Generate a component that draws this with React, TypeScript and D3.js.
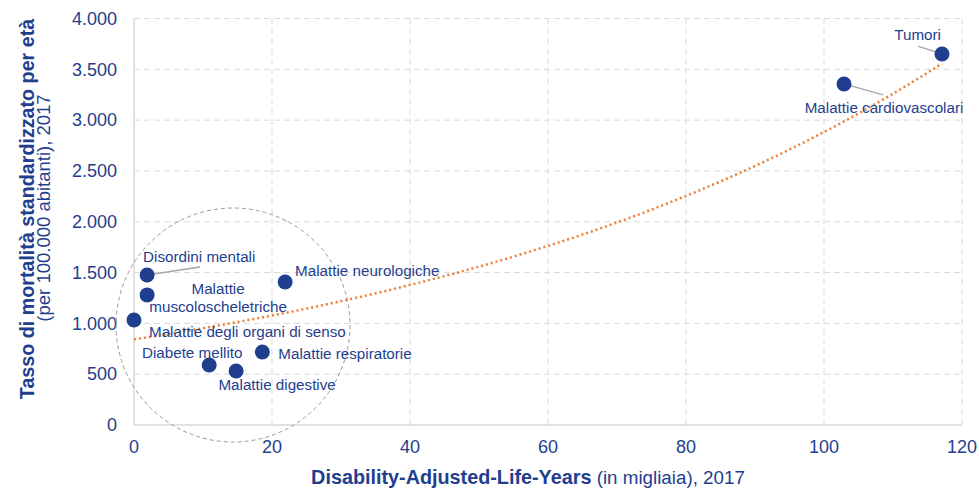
import React from "react";
import * as d3 from "d3";

const categories = [
  "Tumori",
  "Malattie cardiovascolari",
  "Disordini mentali",
  "Malattie muscoloscheletriche",
  "Malattie degli organi di senso",
  "Malattie neurologiche",
  "Diabete mellito",
  "Malattie digestive",
  "Malattie respiratorie",
];
const dalys = [117.1, 102.9, 1.9, 1.9, 0.0, 21.9, 10.9, 14.8, 18.6];
const mortality = [3650, 3356, 1476, 1280, 1033, 1407, 590, 531, 718];
const xTicks = [0, 20, 40, 60, 80, 100, 120];
const yTicks = [0, 500, 1000, 1500, 2000, 2500, 3000, 3500, 4000];

// label layout (pixel offsets from point)
const labelLayout: Record<string, { dx: number; dy: number; anchor: string; lines?: string[]; leader?: [number, number] }> = {
  "Tumori": { dx: -1, dy: -19, anchor: "end", leader: [-24, -8] },
  "Malattie cardiovascolari": { dx: 40, dy: 24, anchor: "middle", leader: [39, 11] },
  "Disordini mentali": { dx: -4, dy: -18, anchor: "start", leader: [53, -8] },
  "Malattie muscoloscheletriche": { dx: 71, dy: -6, anchor: "middle", lines: ["Malattie", "muscoloscheletriche"] },
  "Malattie degli organi di senso": { dx: 15, dy: 12, anchor: "start" },
  "Malattie neurologiche": { dx: 10, dy: -11, anchor: "start" },
  "Diabete mellito": { dx: -17, dy: -12, anchor: "middle" },
  "Malattie digestive": { dx: 41, dy: 13.5, anchor: "middle" },
  "Malattie respiratorie": { dx: 16, dy: 2, anchor: "start" },
};

const W = 979, H = 489;
const left = 134, right = 962, top = 18.5, bottom = 425;
const BLUE = "#1F3E8E";
const FONT = "'Liberation Sans', Arial, sans-serif";

export default function App() {
  const x = d3.scaleLinear().domain([0, 120]).range([left, right]);
  const y = d3.scaleLinear().domain([0, 4000]).range([bottom, top]);

  // exponential trendline fit (least squares on ln y)
  const n = dalys.length;
  const lnY = mortality.map((v) => Math.log(v));
  const mx = d3.mean(dalys)!;
  const ml = d3.mean(lnY)!;
  let sxy = 0, sxx = 0;
  for (let i = 0; i < n; i++) {
    sxy += (dalys[i] - mx) * (lnY[i] - ml);
    sxx += (dalys[i] - mx) ** 2;
  }
  const b = sxy / sxx;
  const a = Math.exp(ml - b * mx);
  const xMax = d3.max(dalys)!;
  const trendPts = d3.range(0, 101).map((i) => {
    const xv = (xMax * i) / 100;
    return [x(xv), y(a * Math.exp(b * xv))] as [number, number];
  });
  const trendPath = d3.line()(trendPts)!;

  // circle highlighting the cluster
  const cx = 233, cy = 325, r = 117;

  return (
    <div style={{ position: "absolute", left: 0, top: 0 }}>
      <svg width={W} height={H} style={{ display: "block", fontFamily: FONT }}>
        <rect width={W} height={H} fill="#fff" />
        {/* gridlines */}
        {yTicks.slice(1).map((t) => (
          <line key={"gy" + t} x1={left} x2={right} y1={y(t)} y2={y(t)} stroke="#D9D9D9" strokeWidth={1} strokeDasharray="6,4" />
        ))}
        {xTicks.slice(1).map((t) => (
          <line key={"gx" + t} x1={x(t)} x2={x(t)} y1={top} y2={bottom} stroke="#D9D9D9" strokeWidth={1} strokeDasharray="6,4" />
        ))}
        {/* axes */}
        <line x1={left} x2={left} y1={top} y2={bottom} stroke="#D9D9D9" strokeWidth={1.5} />
        <line x1={left} x2={right} y1={bottom} y2={bottom} stroke="#D9D9D9" strokeWidth={1.5} />
        {/* tick labels */}
        {yTicks.map((t) => (
          <text key={"ty" + t} x={left - 17} y={y(t)} dy="0.35em" textAnchor="end" fontSize={18} fill={BLUE}>
            {d3.format(",")(t).replace(/,/g, ".")}
          </text>
        ))}
        {xTicks.map((t) => (
          <text key={"tx" + t} x={x(t)} y={bottom + 15} dy="0.71em" textAnchor="middle" fontSize={18} fill={BLUE}>
            {t}
          </text>
        ))}
        {/* axis titles */}
        <text transform={`translate(27,209) rotate(-90)`} textAnchor="middle" dy="0.35em" fontSize={19.7} fontWeight="bold" fill={BLUE}>
          Tasso di mortalità standardizzato per età
        </text>
        <text transform={`translate(44,208) rotate(-90)`} textAnchor="middle" dy="0.35em" fontSize={18.5} fill={BLUE}>
          (per 100.000 abitanti), 2017
        </text>
        <text x={528} y={478} dy="0.35em" textAnchor="middle" fill={BLUE}>
          <tspan fontWeight="bold" fontSize={19.8}>Disability-Adjusted-Life-Years</tspan>
          <tspan fontSize={18.8}> (in migliaia), 2017</tspan>
        </text>
        {/* cluster circle */}
        <circle cx={cx} cy={cy} r={r} fill="none" stroke="#9A9A9A" strokeWidth={1} strokeDasharray="4,3" />
        {/* trendline */}
        <path d={trendPath} fill="none" stroke="#ED7D31" strokeWidth={2.5} strokeDasharray="2,3" />
        {/* leaders */}
        {categories.map((c, i) => {
          const L = labelLayout[c];
          if (!L.leader) return null;
          const px = x(dalys[i]), py = y(mortality[i]);
          return <line key={"l" + c} x1={px} y1={py} x2={px + L.leader[0]} y2={py + L.leader[1]} stroke="#A6A6A6" strokeWidth={1.3} />;
        })}
        {/* points */}
        {categories.map((c, i) => (
          <circle key={"p" + c} cx={x(dalys[i])} cy={y(mortality[i])} r={7.5} fill={BLUE} />
        ))}
        {/* labels */}
        {categories.map((c, i) => {
          const L = labelLayout[c];
          const px = x(dalys[i]), py = y(mortality[i]);
          const lines = L.lines || [c];
          return (
            <text key={"t" + c} x={px + L.dx} y={py + L.dy} textAnchor={L.anchor as any} fontSize={15.2} fill={BLUE}>
              {lines.map((ln, k) => (
                <tspan key={k} x={px + L.dx} dy={k === 0 ? "0.35em" : "1.2em"}>{ln}</tspan>
              ))}
            </text>
          );
        })}
      </svg>
    </div>
  );
}
